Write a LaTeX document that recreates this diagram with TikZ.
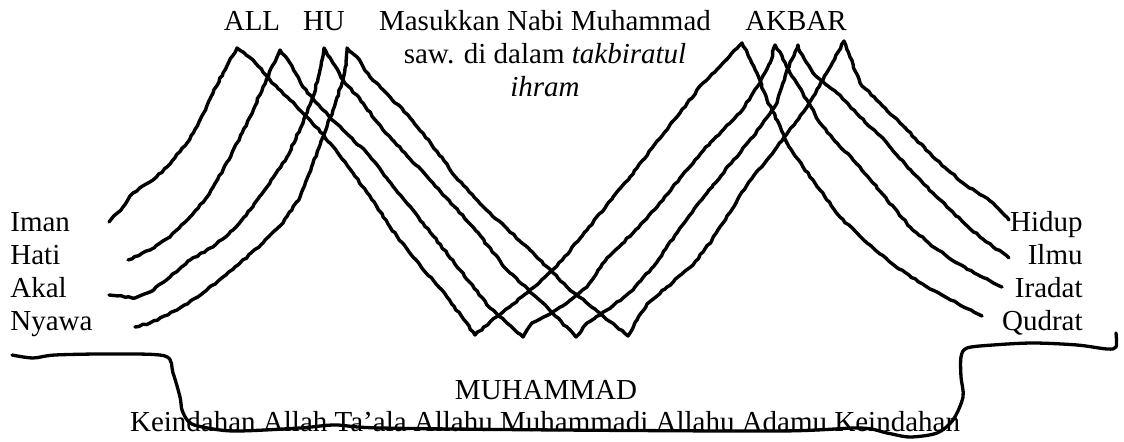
\documentclass[tikz,border=0pt]{standalone}
\usepackage{fontspec}
\setmainfont{Liberation Serif}
\usetikzlibrary{decorations.pathmorphing}
\begin{document}
\begin{tikzpicture}[x=0.5pt,y=-0.5pt,
  lbl/.style={inner sep=0pt, font=\fontsize{14.5}{16.5}\selectfont},
  strand/.style={line width=1.7pt, line cap=round, line join=round,
    decorate, decoration={random steps, segment length=2pt, amplitude=0.35pt}},
  rim/.style={line width=1.65pt, line cap=round, line join=round}]
\useasboundingbox (0,0) rectangle (1124,442);
\pgfmathsetseed{12}

% words on the left and right
\node[lbl, anchor=base west] (iman)  at (10,232) {Iman};
\node[lbl, anchor=base west] (hati)  at (10,265) {Hati};
\node[lbl, anchor=base west] (akal)  at (10,298) {Akal};
\node[lbl, anchor=base west] (nyawa) at (10,331) {Nyawa};
\node[lbl, anchor=base east] (hidup)  at (1083,232) {Hidup};
\node[lbl, anchor=base east] (ilmu)   at (1083,265) {Ilmu};
\node[lbl, anchor=base east] (iradat) at (1083,298) {Iradat};
\node[lbl, anchor=base east] (qudrat) at (1083,331) {Qudrat};

% heading words
\node[lbl, anchor=base] (all)   at (252,31) {ALL};
\node[lbl, anchor=base] (hu)    at (324,31) {HU};
\node[lbl, anchor=base] (akbar) at (796,31) {AKBAR};
\node[lbl, anchor=base] (masuk1) at (545,31) {Masukkan Nabi Muhammad};
\node[lbl, anchor=base] (masuk2) at (545,64) {saw. di dalam \textit{takbiratul}};
\node[lbl, anchor=base] (masuk3) at (545,97) {\textit{ihram}};

% bottom words
\node[lbl, anchor=base] (muh)   at (546,400) {MUHAMMAD};
\node[lbl, anchor=base] (keind) at (545,432) {Keindahan Allah Ta’ala Allahu Muhammadi Allahu Adamu Keindahan};

% strand end points, peaks and valleys
\coordinate (e-iman)  at (109,222);
\coordinate (e-hati)  at (128,260);
\coordinate (e-akal)  at (109,295);
\coordinate (e-nyawa) at (135,327);
\coordinate (e-hidup)  at (1009,220);
\coordinate (e-ilmu)   at (1009,258);
\coordinate (e-iradat) at (1002,287);
\coordinate (e-qudrat) at (982,316);
\coordinate (p1) at (237,48);
\coordinate (p2) at (280,50);
\coordinate (p3) at (324,48);
\coordinate (p4) at (347,48);
\coordinate (b1) at (475,335);
\coordinate (b2) at (523,337);
\coordinate (b3) at (576,337);
\coordinate (b4) at (628,336);
\coordinate (q1) at (742,43);
\coordinate (q2) at (775,45);
\coordinate (q3) at (798,45);
\coordinate (q4) at (844,41);

% Iman -> Qudrat
\draw[strand] (e-iman) -- (123,207) -- (133,193) -- (153,180) -- (167,167) -- (187,143) -- (200,120) -- (213,93) -- (223,73) -- (p1)
  -- (253,60) -- (270,80) -- (290,100) -- (310,120) -- (330,143) -- (353,173) -- (377,207) -- (390,227) -- (413,257) -- (447,297) -- (b1)
  -- (490,322) -- (503,312) -- (527,293) -- (557,266) -- (587,230) -- (613,197) -- (630,177) -- (652,148) -- (680,113) -- (703,83) -- (723,63) -- (q1)
  -- (747,52) -- (757,73) -- (767,100) -- (777,120) -- (787,143) -- (803,167) -- (820,190) -- (840,217) -- (867,243) -- (895,266) -- (930,289) -- (957,303) -- (e-qudrat);

% Hati -> Iradat
\draw[strand] (e-hati) -- (150,250) -- (170,237) -- (190,217) -- (207,197) -- (223,170) -- (237,143) -- (250,117) -- (263,87) -- (277,57) -- (p2)
  -- (290,63) -- (303,87) -- (323,110) -- (343,130) -- (367,153) -- (388,180) -- (423,223) -- (460,270) -- (490,308) -- (b2)
  -- (532,323) -- (546,316) -- (567,303) -- (587,287) -- (607,258) -- (633,233) -- (663,200) -- (680,178) -- (710,143) -- (740,113) -- (760,83) -- (770,63) -- (q2)
  -- (780,52) -- (790,73) -- (807,100) -- (820,123) -- (837,143) -- (860,167) -- (887,200) -- (910,227) -- (935,248) -- (957,263) -- (980,276) -- (e-iradat);

% Akal -> Ilmu
\draw[strand] (e-akal) -- (135,298) -- (150,292) -- (170,277) -- (190,260) -- (213,247) -- (233,230) -- (250,210) -- (267,187) -- (287,157) -- (303,123) -- (313,97) -- (320,70) -- (p3)
  -- (333,63) -- (343,80) -- (363,103) -- (383,130) -- (405,153) -- (430,180) -- (473,227) -- (507,270) -- (547,307) -- (b3)
  -- (587,323) -- (607,310) -- (633,290) -- (657,262) -- (680,228) -- (713,185) -- (753,137) -- (777,103) -- (787,70) -- (q3)
  -- (800,52) -- (813,73) -- (837,93) -- (860,117) -- (887,143) -- (913,173) -- (947,207) -- (980,237) -- (e-ilmu);

% Nyawa -> Hidup
\draw[strand] (e-nyawa) -- (150,323) -- (177,310) -- (203,293) -- (223,277) -- (240,263) -- (263,243) -- (283,223) -- (300,197) -- (313,163) -- (323,137) -- (333,110) -- (343,80) -- (346,62) -- (p4)
  -- (357,57) -- (370,77) -- (390,97) -- (408,115) -- (430,142) -- (458,180) -- (490,213) -- (530,250) -- (567,287) -- (597,311) -- (b4)
  -- (637,320) -- (647,304) -- (667,287) -- (693,265) -- (712,240) -- (723,223) -- (747,185) -- (777,147) -- (807,107) -- (823,80) -- (q4)
  -- (850,57) -- (860,83) -- (880,103) -- (907,130) -- (933,157) -- (963,183) -- (993,203) -- (e-hidup);

% long bracket running under the words
\draw[rim] plot[smooth, tension=0.5] coordinates {(12,355) (33,358) (55,355) (110,354) (165,356) (173,373) (180,397) (182,410) (188,421) (198,426) (233,431) (300,428) (335,425) (380,428) (560,430) (780,431) (860,428) (887,433) (910,437) (937,433) (953,420) (963,397) (961,377) (961,357) (967,348) (993,345) (1033,343) (1077,345) (1107,349) (1116,347) (1116,333)};
\end{tikzpicture}
\end{document}
